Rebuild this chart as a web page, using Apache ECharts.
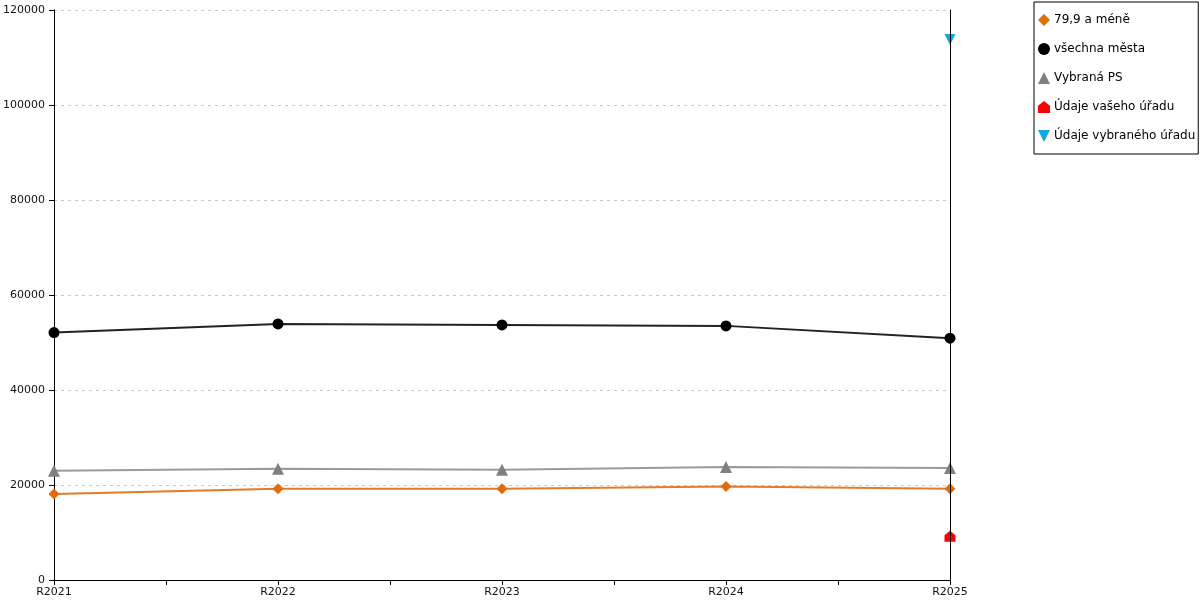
<!DOCTYPE html>
<html>
<head>
<meta charset="utf-8">
<script src="https://cdn.jsdelivr.net/npm/echarts@6/dist/echarts.min.js"></script>
<style>
html,body{margin:0;padding:0;background:#fff;}
#chart{width:1200px;height:600px;}
</style>
</head>
<body>
<div id="chart"></div>
<script>
const categories = ['R2021', 'R2022', 'R2023', 'R2024', 'R2025'];
const seriesNames = ['79,9 a méně', 'všechna města', 'Vybraná PS', 'Údaje vašeho úřadu', 'Údaje vybraného úřadu'];
const small = [18100, 19200, 19200, 19700, 19200];
const allCities = [52100, 53900, 53700, 53500, 50900];
const selectedPS = [23000, 23400, 23200, 23800, 23600];
const yourOffice = [null, null, null, null, 9200];
const selectedOffice = [null, null, null, null, 113800];
const yTicks = [0, 20000, 40000, 60000, 80000, 100000, 120000];

const FONT = 'DejaVu Sans';
const housePath = 'path://M0,10 L0,4 L5,0 L10,4 L10,10 Z';
const downTri = 'path://M0,0 L10,0 L5,10 Z';

function pts(arr) { return arr.map((v, i) => [i, v]); }

const chart = echarts.init(document.getElementById('chart'));
chart.setOption({
  animation: false,
  backgroundColor: '#fff',
  textStyle: { fontFamily: FONT },
  grid: { left: 54, right: 250, top: 10, bottom: 20, containLabel: false },
  legend: {
    orient: 'vertical',
    left: 1034,
    top: 2,
    padding: [12, 3, 12, 4],
    borderColor: '#000',
    borderWidth: 1,
    itemWidth: 12,
    itemHeight: 12,
    itemGap: 17,
    textStyle: { fontFamily: FONT, fontSize: 12, color: '#000', padding: [0, 0, 0, -1] },
    data: [
      { name: seriesNames[0], icon: 'diamond' },
      { name: seriesNames[1], icon: 'circle' },
      { name: seriesNames[2], icon: 'triangle' },
      { name: seriesNames[3], icon: housePath },
      { name: seriesNames[4], icon: downTri }
    ]
  },
  xAxis: {
    type: 'value',
    min: 0,
    max: categories.length - 1,
    interval: 0.5,
    axisLine: { show: true, lineStyle: { color: '#000', width: 1 } },
    axisTick: { show: true, length: 5, lineStyle: { color: '#000' } },
    splitLine: { show: false },
    axisLabel: {
      fontFamily: FONT, fontSize: 11, color: '#111', margin: 7,
      showMinLabel: true, showMaxLabel: true,
      formatter: v => Number.isInteger(v) ? categories[v] : ''
    }
  },
  yAxis: [
    {
      type: 'value',
      min: yTicks[0],
      max: yTicks[yTicks.length - 1],
      interval: yTicks[1] - yTicks[0],
      axisLine: { show: true, lineStyle: { color: '#000', width: 1 } },
      axisTick: { show: true, length: 5, lineStyle: { color: '#000' } },
      axisLabel: { fontFamily: FONT, fontSize: 11, color: '#111', margin: 9, formatter: v => String(v) },
      splitLine: { show: true, lineStyle: { color: '#c8c8c8', type: [3, 4], width: 1 } }
    },
    {
      type: 'value',
      position: 'right',
      min: yTicks[0],
      max: yTicks[yTicks.length - 1],
      z: 10,
      axisLine: { show: true, onZero: false, lineStyle: { color: '#000', width: 1 } },
      axisTick: { show: false },
      axisLabel: { show: false },
      splitLine: { show: false }
    }
  ],
  series: [
    {
      name: seriesNames[1], type: 'line', data: pts(allCities), clip: false,
      symbol: 'circle', symbolSize: 11,
      itemStyle: { color: '#000' },
      lineStyle: { color: '#222', width: 2 }
    },
    {
      name: seriesNames[2], type: 'line', data: pts(selectedPS), clip: false,
      symbol: 'triangle', symbolSize: 12,
      itemStyle: { color: '#808080' },
      lineStyle: { color: '#9a9a9a', width: 2 }
    },
    {
      name: seriesNames[0], type: 'line', data: pts(small), clip: false,
      symbol: 'diamond', symbolSize: 11,
      itemStyle: { color: '#E36C0A' },
      lineStyle: { color: '#E8792A', width: 2 }
    },
    {
      name: seriesNames[3], type: 'line', data: pts(yourOffice), clip: false,
      symbol: housePath, symbolSize: 11,
      itemStyle: { color: '#FF0000' },
      lineStyle: { color: '#FF0000', width: 2 }
    },
    {
      name: seriesNames[4], type: 'line', data: pts(selectedOffice), clip: false,
      symbol: downTri, symbolSize: 11,
      itemStyle: { color: '#12A8E6' },
      lineStyle: { color: '#12A8E6', width: 2 }
    }
  ]
});
</script>
</body>
</html>
